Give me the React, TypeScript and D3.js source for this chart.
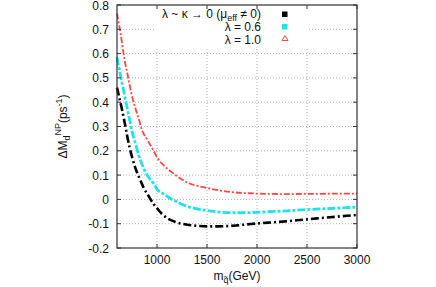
import React from 'react';
import * as d3 from 'd3';

// ---- data ----
const xTicks = [1000, 1500, 2000, 2500, 3000];
const yTicks = [-0.2, -0.1, 0, 0.1, 0.2, 0.3, 0.4, 0.5, 0.6, 0.7, 0.8];

const zeroSeries: [number, number][] = [
  [600, 0.46], [625, 0.415], [650, 0.37], [675, 0.32], [700, 0.265], [725, 0.215],
  [750, 0.175], [785, 0.128], [825, 0.087], [870, 0.045], [910, 0.018], [966, -0.019],
  [1000, -0.036], [1050, -0.06], [1100, -0.077], [1200, -0.095], [1300, -0.104],
  [1400, -0.109], [1500, -0.111], [1600, -0.111], [1700, -0.11], [1800, -0.107],
  [1900, -0.103], [2000, -0.099], [2200, -0.093], [2400, -0.086], [2600, -0.078],
  [2800, -0.071], [3000, -0.064],
];

const lambda06Series: [number, number][] = [
  [600, 0.585], [625, 0.53], [650, 0.48], [675, 0.43], [700, 0.38], [725, 0.33],
  [750, 0.28], [785, 0.23], [815, 0.185], [865, 0.13], [910, 0.095], [970, 0.063],
  [1000, 0.042], [1060, 0.024], [1130, 0.005], [1200, -0.01], [1260, -0.022],
  [1350, -0.034], [1500, -0.046], [1650, -0.053], [1800, -0.055], [1950, -0.054],
  [2100, -0.051], [2300, -0.047], [2500, -0.042], [2700, -0.038], [3000, -0.032],
];

const lambda10Series: [number, number][] = [
  [600, 0.765], [620, 0.72], [635, 0.685], [655, 0.63], [675, 0.575], [705, 0.515],
  [745, 0.435], [780, 0.38], [815, 0.335], [850, 0.285], [900, 0.248], [966, 0.2],
  [1005, 0.17], [1065, 0.141], [1160, 0.108], [1300, 0.07], [1500, 0.047],
  [1750, 0.03], [2000, 0.024], [2300, 0.022], [2600, 0.023], [3000, 0.024],
];

const W = 436;
const H = 287;
const L = 117, R = 357, T = 5, B = 248;

export default function App() {
  const x = d3.scaleLinear().domain([600, 3000]).range([L, R]);
  const y = d3.scaleLinear().domain([-0.2, 0.8]).range([B, T]);
  const line = d3
    .line<[number, number]>()
    .x((d) => x(d[0]))
    .y((d) => y(d[1]))
    .curve(d3.curveMonotoneX);

  const font = '"Liberation Sans", Arial, sans-serif';
  const gridColor = '#b0b0b0';
  const tickLen = 4;
  const fmt = (v: number) => (Math.abs(v) < 1e-9 ? '0' : v.toFixed(1));

  return (
    <svg
      width={W}
      height={H}
      style={{ position: 'absolute', left: 0, top: 0, background: '#fff' }}
      fontFamily={font}
    >
      <rect x={0} y={0} width={W} height={H} fill="#fff" />
      {/* grid */}
      <g stroke={gridColor} strokeWidth={1} strokeDasharray="1,2">
        {xTicks
          .filter((t) => x(t) < R - 1)
          .map((t) => (
            <line key={'gx' + t} x1={x(t)} x2={x(t)} y1={B} y2={T} />
          ))}
        {yTicks
          .filter((t) => y(t) > T + 1 && y(t) < B - 1)
          .map((t) => (
            <line key={'gy' + t} x1={L} x2={R} y1={y(t)} y2={y(t)} />
          ))}
      </g>
      {/* legend background hides grid */}
      <rect x={154} y={T + 1} width={155} height={41} fill="#fff" />

      {/* data series */}
      <path
        d={line(lambda10Series) || ''}
        fill="none"
        stroke="#ff4545"
        strokeWidth={1.8}
        strokeDasharray="6,2,2,2"
      />
      <path
        d={line(lambda06Series) || ''}
        fill="none"
        stroke="#1fe3ea"
        strokeWidth={2.8}
        strokeDasharray="8,2,3,2"
      />
      <path
        d={line(zeroSeries) || ''}
        fill="none"
        stroke="#000"
        strokeWidth={2.6}
        strokeDasharray="8,3,2,3"
      />

      {/* frame */}
      <rect x={L} y={T} width={R - L} height={B - T} fill="none" stroke="#333" strokeWidth={1.2} />
      {/* ticks */}
      <g stroke="#333" strokeWidth={1}>
        {xTicks.map((t) => (
          <g key={'tx' + t}>
            <line x1={x(t)} x2={x(t)} y1={B} y2={B - tickLen} />
            <line x1={x(t)} x2={x(t)} y1={T} y2={T + tickLen} />
          </g>
        ))}
        {yTicks.map((t) => (
          <g key={'ty' + t}>
            <line x1={L} x2={L + tickLen} y1={y(t)} y2={y(t)} />
            <line x1={R} x2={R - tickLen} y1={y(t)} y2={y(t)} />
          </g>
        ))}
      </g>
      {/* tick labels */}
      <g fontSize={12} fill="#111">
        {xTicks.map((t) => (
          <text key={'lx' + t} x={x(t)} y={264} textAnchor="middle">
            {t}
          </text>
        ))}
        {yTicks.map((t) => (
          <text key={'ly' + t} x={109} y={y(t) + 4.5} textAnchor="end">
            {fmt(t)}
          </text>
        ))}
      </g>
      {/* axis titles */}
      <text x={(L + R) / 2} y={280} textAnchor="middle" fontSize={12} fill="#111">
        m
        <tspan fontSize={9} dy={3}>q̃</tspan>
        <tspan dy={-3}>(GeV)</tspan>
      </text>
      <text
        transform={`translate(67, ${(T + B) / 2}) rotate(-90)`}
        textAnchor="middle"
        fontSize={12}
        fill="#111"
      >
        ΔM
        <tspan fontSize={9} dy={3}>d</tspan>
        <tspan fontSize={9} dy={-9}>NP</tspan>
        <tspan dy={6}>(ps</tspan>
        <tspan fontSize={9} dy={-5}>-1</tspan>
        <tspan dy={5}>)</tspan>
      </text>

      {/* legend */}
      <g fontSize={12} fill="#111" textAnchor="end">
        <text x={261} y={18}>
          λ ~ κ → 0 (μ
          <tspan fontSize={9} dy={2.5}>eff</tspan>
          <tspan dy={-2.5}> ≠ 0)</tspan>
        </text>
        <text x={261} y={31}>λ = 0.6</text>
        <text x={261} y={43.5}>λ = 1.0</text>
      </g>
      <rect x={282} y={11.5} width={5.5} height={5.5} fill="#000" />
      <rect x={282} y={24} width={5.5} height={5.5} fill="#1fe3ea" />
      <path d="M285,35.5 L288,40.5 L282,40.5 Z" fill="none" stroke="#ff4545" strokeWidth={1} />
    </svg>
  );
}
